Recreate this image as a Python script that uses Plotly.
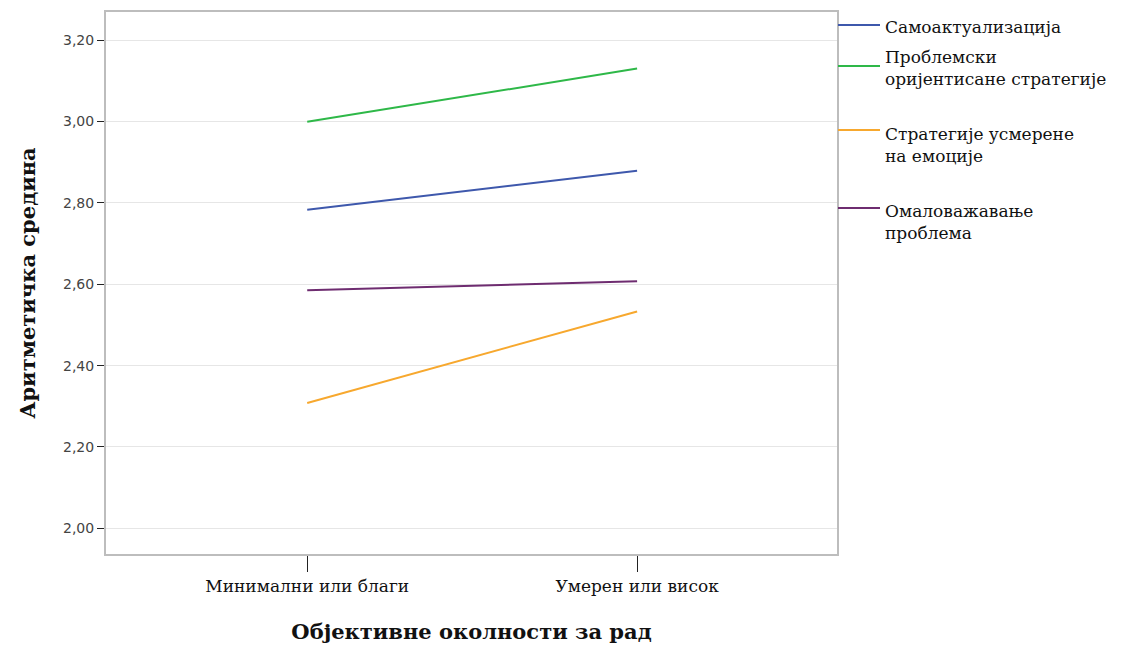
import plotly.graph_objects as go

categories = ["Минимални или благи", "Умерен или висок"]
series_names = [
    "Самоактуализација",
    "Проблемски оријентисане стратегије",
    "Стратегије усмерене на емоције",
    "Омаловажавање проблема",
]
legend_labels = [
    "Самоактуализација",
    "Проблемски<br>оријентисане стратегије",
    "Стратегије усмерене<br>на емоције",
    "Омаловажавање<br>проблема",
]
self_actualization = [2.783, 2.879]
problem_focused = [2.999, 3.130]
emotion_focused = [2.308, 2.533]
problem_minimizing = [2.585, 2.607]
y_ticks = [2.0, 2.2, 2.4, 2.6, 2.8, 3.0, 3.2]

colors = ["#3E58AC", "#2EB848", "#F7A82E", "#6E2C70"]
series_values = [self_actualization, problem_focused, emotion_focused, problem_minimizing]

OFF = 8  # page body margin
W, H = 1125 - OFF, 649 - OFF
L, R, T, B = 106 - OFF, 837 - OFF, 12 - OFF, 554 - OFF

fig = go.Figure()
x_idx = list(range(len(categories)))
for name, vals, col in zip(series_names, series_values, colors):
    fig.add_trace(go.Scatter(x=x_idx, y=vals, mode="lines", name=name,
                             line=dict(color=col, width=2), showlegend=False))

serif = "DejaVu Serif, Liberation Serif, serif"

def px_x(p):
    return (p - OFF - L) / (R - L)

def px_y(p):
    return (B - (p - OFF)) / (B - T)

legend_swatch_y = [25, 66, 130, 208]
legend_text_y = [27, 68, 145, 222]
for lab, col, sy, ty in zip(legend_labels, colors, legend_swatch_y, legend_text_y):
    fig.add_shape(type="line", xref="paper", yref="paper",
                  x0=px_x(838), x1=px_x(880), y0=px_y(sy), y1=px_y(sy),
                  line=dict(color=col, width=2))
    fig.add_annotation(xref="paper", yref="paper", x=px_x(883), y=px_y(ty),
                       text=lab, showarrow=False, xanchor="left", yanchor="middle",
                       align="left", font=dict(family=serif, size=17, color="#111"))

fig.update_layout(
    width=W, height=H,
    margin=dict(l=L, r=W - R, t=T, b=H - B, pad=0),
    paper_bgcolor="white", plot_bgcolor="white",
    separators=",.",
    xaxis=dict(
        range=[-0.61, 1.606], tickmode="array", tickvals=x_idx, ticktext=categories,
        ticks="outside", ticklen=16, tickcolor="#222", tickwidth=1,
        showline=True, linecolor="#BDBDBD", linewidth=2, mirror=True,
        showgrid=False, zeroline=False,
        tickfont=dict(family=serif, size=17, color="#111"),
        title=dict(text="<b>Објективне околности за рад</b>", standoff=29,
                   font=dict(family=serif, size=21, color="#111")),
        automargin=False,
    ),
    yaxis=dict(
        range=[1.937, 3.269], tickmode="array", tickvals=y_ticks, tickformat=".2f",
        ticks="outside", ticklen=7, tickcolor="#222", tickwidth=1,
        showline=True, linecolor="#BDBDBD", linewidth=2, mirror=True,
        showgrid=True, gridcolor="#E6E6E6", gridwidth=1, zeroline=False,
        tickfont=dict(family="DejaVu Sans, Arial, sans-serif", size=14, color="#444"),
        title=dict(text="<b>Аритметичка средина</b>", standoff=22,
                   font=dict(family=serif, size=21, color="#111")),
        automargin=False,
    ),
)

fig.write_html("out.html")
